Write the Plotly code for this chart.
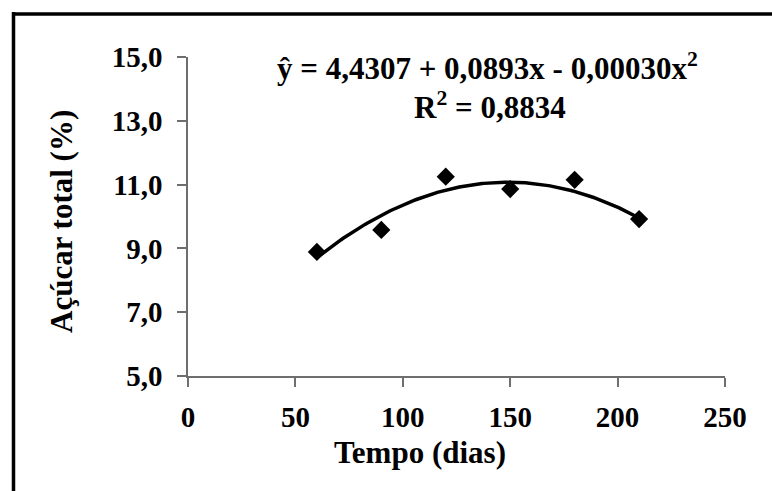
import numpy as np
import plotly.graph_objects as go

# Dados: tempo de armazenamento (dias) x açúcar total (%)
dias = [60, 90, 120, 150, 180, 210]
acucar = [8.89, 9.58, 11.25, 10.86, 11.15, 9.92]

# Regressão quadrática ajustada: y = b0 + b1*x + b2*x^2
coef = [4.4307, 0.0893, -0.00030]
r2 = 0.8834

x_tickvals = [0, 50, 100, 150, 200, 250]
x_ticktext = ["0", "50", "100", "150", "200", "250"]
y_tickvals = [5, 7, 9, 11, 13, 15]
y_ticktext = ["5,0", "7,0", "9,0", "11,0", "13,0", "15,0"]

W, H = 772, 491
L, R, T, B = 188, 47, 57, 115
PW, PH = W - L - R, H - T - B
FONT = "Liberation Serif, Times New Roman, serif"


def px_x(p):
    return (p - L) / PW


def px_y(p):
    return (H - B - p) / PH


xc = np.linspace(min(dias), max(dias), 200)
yc = coef[0] + coef[1] * xc + coef[2] * xc ** 2

fig = go.Figure()
fig.add_trace(go.Scatter(
    x=xc, y=yc, mode="lines",
    line=dict(color="black", width=3.5),
    hoverinfo="skip", showlegend=False,
))
fig.add_trace(go.Scatter(
    x=dias, y=acucar, mode="markers",
    marker=dict(symbol="diamond", size=14, color="black"),
    showlegend=False,
))

axis_common = dict(
    showgrid=False, zeroline=False, showline=True,
    linecolor="#6e6e6e", linewidth=1.5,
    ticks="outside", ticklen=9, tickwidth=1.5, tickcolor="#6e6e6e",
    tickfont=dict(family=FONT, size=29, color="black", weight="bold"),
)

fig.update_xaxes(range=[0, 250], tickvals=x_tickvals, ticktext=x_ticktext,
                 ticklabelstandoff=5, **axis_common)
fig.update_yaxes(range=[5, 15], tickvals=y_tickvals, ticktext=y_ticktext,
                 ticklabelstandoff=9, **axis_common)


def fmt(v, d):
    return f"{v:.{d}f}".replace(".", ",")


eq = (f"ŷ = {fmt(coef[0], 4)} + {fmt(coef[1], 4)}x - "
      f"{fmt(abs(coef[2]), 5)}x<sup>2</sup>")
r2_txt = f"R<sup>2</sup> = {fmt(r2, 4)}"

eq_font = dict(family=FONT, size=31, color="black", weight="bold")
title_font = dict(family=FONT, size=31, color="black", weight="bold")
annotations = [
    dict(text=eq, x=px_x(487), y=px_y(66), xref="paper", yref="paper",
         showarrow=False, xanchor="center", yanchor="middle", font=eq_font),
    dict(text=r2_txt, x=px_x(490), y=px_y(105), xref="paper", yref="paper",
         showarrow=False, xanchor="center", yanchor="middle", font=eq_font),
    dict(text="Tempo (dias)", x=px_x(420), y=px_y(452), xref="paper", yref="paper",
         showarrow=False, xanchor="center", yanchor="middle", font=title_font),
    dict(text="Açúcar total (%)", x=px_x(62), y=px_y(222), xref="paper", yref="paper",
         showarrow=False, xanchor="center", yanchor="middle", textangle=-90,
         font=title_font),
]

# Moldura preta (borda esquerda e superior)
frame = dict(type="line", xref="paper", yref="paper",
             line=dict(color="black", width=3.5))
shapes = [
    dict(frame, x0=px_x(13.5), x1=px_x(13.5), y0=px_y(12), y1=px_y(500)),
    dict(frame, x0=px_x(12), x1=px_x(790), y0=px_y(14), y1=px_y(14)),
]

fig.update_layout(
    width=W, height=H,
    margin=dict(l=L, r=R, t=T, b=B, pad=0),
    paper_bgcolor="white", plot_bgcolor="white",
    annotations=annotations, shapes=shapes,
    showlegend=False,
)

fig.write_html("out.html")
